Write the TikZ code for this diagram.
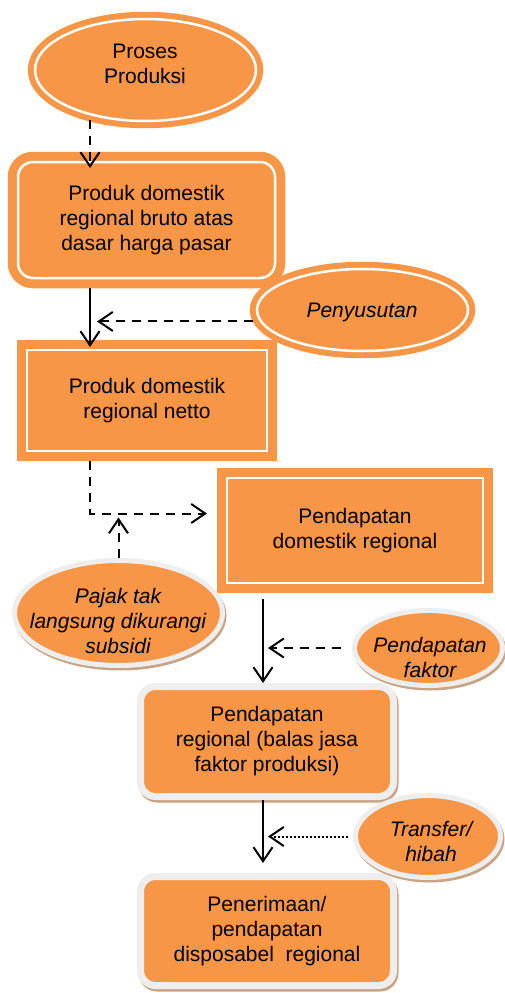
\documentclass[tikz,border=0pt]{standalone}
\usepackage{fontspec}
\setmainfont{Liberation Sans}
\usepackage{tikz}
\usetikzlibrary{arrows.meta,calc,positioning,shapes.geometric,shadows}
\usepackage{xcolor}
\definecolor{orfill}{HTML}{F79646}
\definecolor{rimgrey}{HTML}{EEEEEE}
\definecolor{shadowtan}{HTML}{C9A484}

\tikzset{
  ringbox/.style={rectangle, fill=orfill, draw=orfill, line width=9pt,
    double=white, double distance=2.5pt, outer sep=10pt, inner sep=0pt, align=center},
  ringoval/.style={ellipse, fill=orfill, draw=orfill, line width=6pt,
    double=white, double distance=2.5pt, outer sep=7pt, inner sep=0pt},
  softbox/.style={rectangle, rounded corners=15pt, fill=orfill, draw=rimgrey,
    line width=7pt, outer sep=3.5pt, inner sep=0pt, align=center,
    drop shadow={shadow xshift=1.5pt, shadow yshift=-2.5pt, opacity=1,
      fill=shadowtan, draw=shadowtan, line width=7pt}},
  softoval/.style={ellipse, fill=orfill, draw=rimgrey, line width=5pt,
    outer sep=2.5pt, inner sep=0pt,
    drop shadow={shadow xshift=1.5pt, shadow yshift=-2.5pt, opacity=1,
      fill=shadowtan, draw=shadowtan, line width=5pt}},
  txt/.style={align=center},
  flow/.style={line width=2pt, -{Straight Barb[length=14pt,width=19pt,line width=2pt]}},
  dashflow/.style={flow, dash pattern=on 9pt off 7pt},
  dotflow/.style={flow, dash pattern=on 2pt off 2pt}
}

\begin{document}
\begin{tikzpicture}[x=1pt, y=-1pt, font=\fontsize{21pt}{25pt}\selectfont]
  \useasboundingbox (0,0) rectangle (505,993);
  \coordinate (spine) at (90,0);
  \coordinate (trunk) at (263,0);
  % left column
  \node[ringoval, minimum width=221pt, minimum height=102pt] (proses) at (145.5,70) {};
  \node[txt] at (145,64) {Proses\\Produksi};
  \node[ringbox, rounded corners=15pt, minimum width=257pt, minimum height=116pt] (bruto) at (146.5,220)
    {Produk domestik\\regional bruto atas\\dasar harga pasar};
  \node[ringoval, minimum width=211pt, minimum height=82pt] (susut) at (362.5,310) {};
  \node[txt, font=\fontsize{21pt}{25pt}\selectfont\itshape] at (362,312) {Penyusutan};
  \node[ringbox, minimum width=240pt, minimum height=101pt] (netto) at (147,400.5)
    {Produk domestik\\regional netto};
  % right column
  \node[ringbox, minimum width=256pt, minimum height=105pt] (domestik) at (355,530.5)
    {Pendapatan\\domestik regional};
  \coordinate (entry) at ([yshift=17pt]domestik.west);
  \node[softoval, minimum width=208pt, minimum height=105pt] (pajak) at (118.5,613) {};
  \node[txt, font=\fontsize{21pt}{25pt}\selectfont\itshape] at (118,621)
    {Pajak tak\\langsung dikurangi\\subsidi};
  \node[softoval, minimum width=148pt, minimum height=75pt] (faktor) at (428.5,648) {};
  \node[txt, font=\fontsize{21pt}{25pt}\selectfont\itshape] at (430,657) {Pendapatan\\faktor};
  \node[softbox, minimum width=253pt, minimum height=110pt] (regional) at (267,741.5)
    {Pendapatan\\regional (balas jasa\\faktor produksi)};
  \node[softoval, minimum width=145pt, minimum height=82pt] (transfer) at (428,836.5) {};
  \node[txt, font=\fontsize{21pt}{25pt}\selectfont\itshape] at (431,841) {Transfer/\\hibah};
  \node[softbox, minimum width=253pt, minimum height=109pt] (terima) at (267,931)
    {Penerimaan/\\pendapatan\\disposabel~~regional};
  % connectors
  \draw[dashflow, shorten >=-16pt] (proses.220 -| spine) -- (bruto.north -| spine);
  \draw[flow, shorten >=-7pt] (bruto.south -| spine) -- (netto.north -| spine);
  \draw[dashflow, shorten >=7pt] (susut.186) -- (susut.186 -| spine);
  \draw[dashflow, shorten >=10pt] (netto.south -| spine) |- (entry);
  \draw[dashflow, shorten >=4pt] (pajak.north) -- (pajak.north |- entry);
  \draw[flow, shorten <=6pt] (domestik.south -| trunk) -- (regional.north -| trunk);
  \draw[dashflow, shorten <=11pt, shorten >=5pt] (faktor.west) -- (faktor.west -| trunk);
  \draw[flow, shorten >=10pt] (regional.south -| trunk) -- (terima.north -| trunk);
  \draw[dotflow, shorten <=5pt, shorten >=5pt] (transfer.west) -- (transfer.west -| trunk);
\end{tikzpicture}
\end{document}
